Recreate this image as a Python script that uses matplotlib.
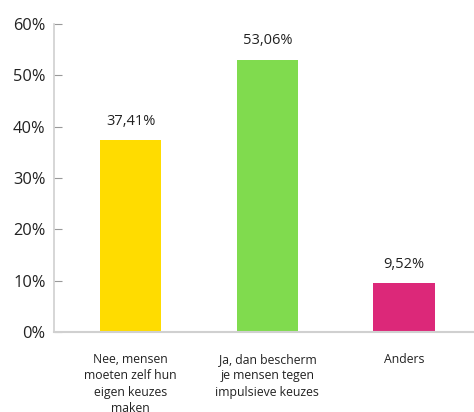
import matplotlib
matplotlib.use("Agg")
import matplotlib.pyplot as plt

categories = ["Nee, mensen\nmoeten zelf hun\neigen keuzes\nmaken",
              "Ja, dan bescherm\nje mensen tegen\nimpulsieve keuzes",
              "Anders"]
values = [37.41, 53.06, 9.52]
value_labels = ["37,41%", "53,06%", "9,52%"]
colors = ["#FFDC00", "#80DB4E", "#DC2879"]
yticks = [0, 10, 20, 30, 40, 50, 60]
ytick_labels = ["0%", "10%", "20%", "30%", "40%", "50%", "60%"]

plt.rcParams['font.family'] = ['Open Sans', 'DejaVu Sans']

fig = plt.figure(figsize=(4.74, 4.12), dpi=100)
ax = fig.add_axes([54/474, 1-332/412, 1-54/474, (332-24)/412])

x = list(range(len(categories)))
ax.bar(x, values, width=0.45, color=colors, zorder=2)
for xi, v, lab in zip(x, values, value_labels):
    ax.annotate(lab, (xi, v), xytext=(0, 13.5), textcoords="offset points",
                ha="center", va="center", fontsize=10.5, color="#222222")

ax.set_xlim(-0.56, 2.51)
ax.set_ylim(0, 60)
ax.set_yticks(yticks)
ax.set_yticklabels(ytick_labels, fontsize=11.8, color="#222222")
ax.set_xticks(x)
ax.set_xticklabels(categories, fontsize=8.8, color="#222222", linespacing=1.35, va="top")
ax.tick_params(axis="x", length=0, pad=15)
ax.tick_params(axis="y", direction="in", length=6, color="#999999", width=0.8, pad=6)
for s in ["top", "right"]:
    ax.spines[s].set_visible(False)
ax.spines["left"].set_color("#d0d0d0")
ax.spines["bottom"].set_color("#d0d0d0")
ax.spines["left"].set_linewidth(1.2)
ax.spines["bottom"].set_linewidth(1.5)

fig.savefig("out.png", dpi=100)
